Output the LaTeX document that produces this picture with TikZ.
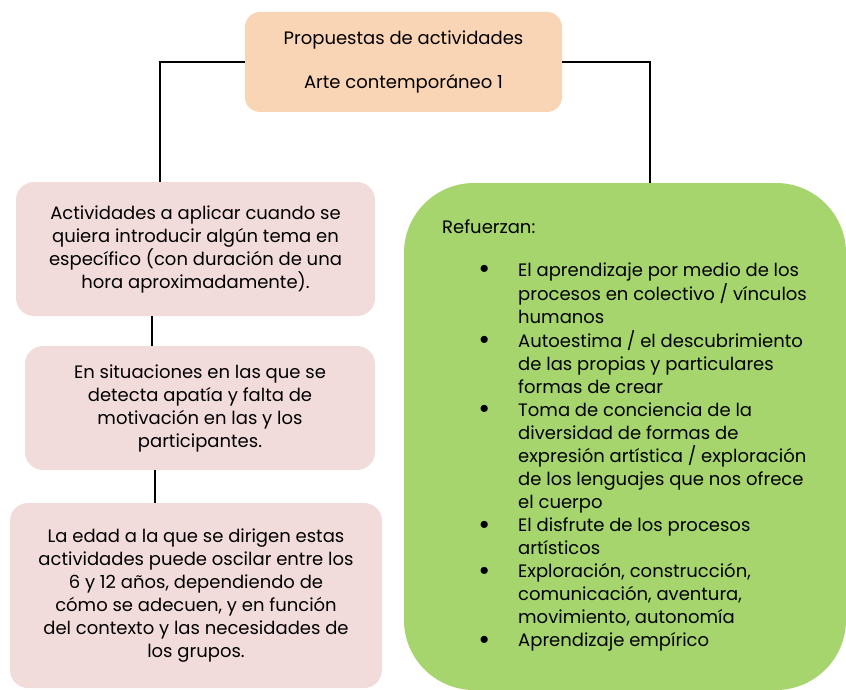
\documentclass[tikz,border=0pt]{standalone}
\usepackage{fontspec}
\setmainfont{Poppins}
\usetikzlibrary{calc}
\definecolor{peach}{RGB}{250,213,181}
\definecolor{rosebox}{RGB}{242,220,219}
\definecolor{greenbox}{RGB}{165,213,108}
\begin{document}
\begin{tikzpicture}[x=1pt,y=-1pt,
  every node/.style={font=\fontsize{18}{23}\selectfont},
  box/.style={rounded corners=18pt, inner sep=0pt, align=center},
  pinkbox/.style={box, fill=rosebox},
  link/.style={line width=2pt, black}]
\useasboundingbox (0,0) rectangle (846,690);
\node[box, fill=peach, rounded corners=15pt, minimum width=317pt, minimum height=100pt] (prop) at (403.5,62) {Propuestas de actividades\\[21pt]Arte contemporáneo 1};
\node[pinkbox, minimum width=359pt, minimum height=134pt] (act) at (195.5,249) {Actividades a aplicar cuando se\\quiera introducir algún tema en\\específico (con duración de una\\hora aproximadamente).};
\node[pinkbox, minimum width=350pt, minimum height=124pt] (sit) at (200,408) {En situaciones en las que se\\detecta apatía y falta de\\motivación en las y los\\participantes.};
\node[pinkbox, minimum width=372pt, minimum height=185pt] (edad) at (196,595.5) {La edad a la que se dirigen estas\\actividades puede oscilar entre los\\6 y 12 años, dependiendo de\\cómo se adecuen, y en función\\del contexto y las necesidades de\\los grupos.};
\node[box, fill=greenbox, rounded corners=70pt, minimum width=442pt, minimum height=507pt] (ref) at (625,436.5) {};
\node[anchor=west, inner sep=0pt] (reftit) at (442,227) {Refuerzan:};
\node[anchor=north west, inner sep=0pt] (lista) at (478,260) {\begin{tabular}{@{}p{40pt}@{}l@{}}
\makebox[12pt]{\raisebox{-2.5pt}{\scalebox{1.6}{\textbullet}}} & El aprendizaje por medio de los\\
 & procesos en colectivo / vínculos\\
 & humanos\\
\makebox[12pt]{\raisebox{-2.5pt}{\scalebox{1.6}{\textbullet}}} & Autoestima / el descubrimiento\\
 & de las propias y particulares\\
 & formas de crear\\
\makebox[12pt]{\raisebox{-2.5pt}{\scalebox{1.6}{\textbullet}}} & Toma de conciencia de la\\
 & diversidad de formas de\\
 & expresión artística / exploración\\
 & de los lenguajes que nos ofrece\\
 & el cuerpo\\
\makebox[12pt]{\raisebox{-2.5pt}{\scalebox{1.6}{\textbullet}}} & El disfrute de los procesos\\
 & artísticos\\
\makebox[12pt]{\raisebox{-2.5pt}{\scalebox{1.6}{\textbullet}}} & Exploración, construcción,\\
 & comunicación, aventura,\\
 & movimiento, autonomía\\
\makebox[12pt]{\raisebox{-2.5pt}{\scalebox{1.6}{\textbullet}}} & Aprendizaje empírico
\end{tabular}};
% connectors
\draw[link] (prop.west) -| ($(act.north west)!0.4!(act.north east)$);
\draw[link] (prop.east) -| ($(ref.north west)!0.557!(ref.north east)$);
\coordinate (ac) at ($(act.south west)!0.379!(act.south east)$);
\draw[link] (ac) -- (ac |- sit.north);
\coordinate (sc) at ($(sit.south west)!0.371!(sit.south east)$);
\draw[link] (sc) -- (sc |- edad.north);
\end{tikzpicture}
\end{document}
